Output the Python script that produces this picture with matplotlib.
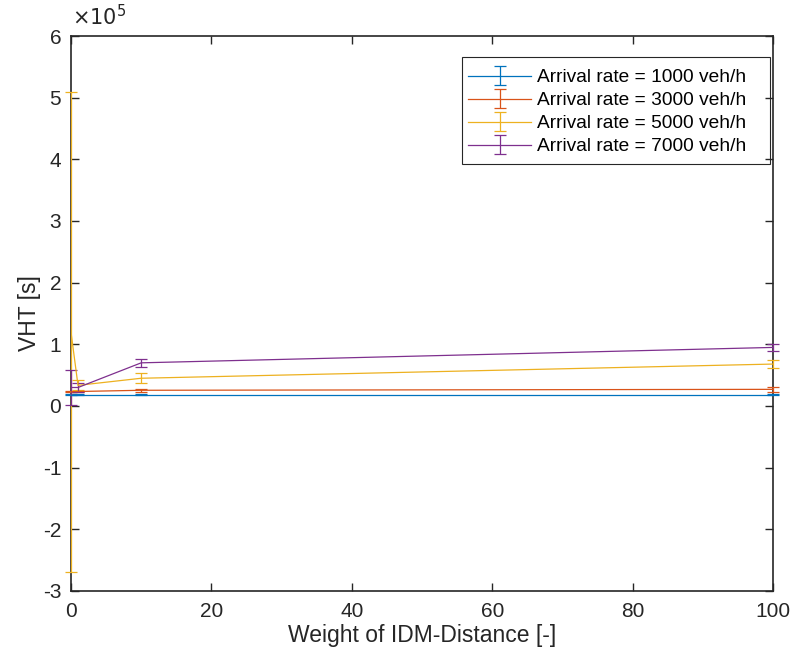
import numpy as np
import matplotlib.pyplot as plt
from matplotlib.patches import Rectangle

plt.rcParams['font.family'] = ['Liberation Sans', 'DejaVu Sans']

# weight of the IDM-distance term
weights = [0, 1, 10, 100]
labels = ['Arrival rate = 1000 veh/h', 'Arrival rate = 3000 veh/h',
          'Arrival rate = 5000 veh/h', 'Arrival rate = 7000 veh/h']

# mean VHT and spread per arrival rate [s]
vht_1000 = [0.185e5, 0.185e5, 0.185e5, 0.185e5]
err_1000 = [0.01e5, 0.01e5, 0.01e5, 0.01e5]
vht_3000 = [0.23e5, 0.235e5, 0.255e5, 0.27e5]
err_3000 = [0.01e5, 0.01e5, 0.02e5, 0.04e5]
vht_5000 = [1.2e5, 0.335e5, 0.45e5, 0.68e5]
err_5000 = [3.9e5, 0.08e5, 0.08e5, 0.07e5]
vht_7000 = [0.30e5, 0.30e5, 0.70e5, 0.95e5]
err_7000 = [0.29e5, 0.08e5, 0.06e5, 0.06e5]

colors = ['#0072BD', '#D95319', '#EDB120', '#7E2F8E']
ink = '#262626'

fig = plt.figure(figsize=(7.94, 6.63), dpi=100)
ax = fig.add_axes([0.0894, 0.1086, 0.8842, 0.8371])

for y, e, c, lab in zip([vht_1000, vht_3000, vht_5000, vht_7000],
                        [err_1000, err_3000, err_5000, err_7000], colors, labels):
    cont = ax.errorbar(weights, y, yerr=e, color=c, lw=0.9, elinewidth=0.9,
                       capsize=4.5, capthick=0.9, label=lab, zorder=3)
    for art in list(cont.lines[1]) + list(cont.lines[2]):
        art.set_clip_on(False)

ax.set_xlim(0, 100)
ax.set_ylim(-3e5, 6e5)
ax.set_yticks(np.arange(-3, 7) * 1e5)
ax.set_yticklabels([str(v) for v in range(-3, 7)])
ax.set_xticks(np.arange(0, 101, 20))
ax.text(0.002, 1.012, r'$\times10^{5}$', transform=ax.transAxes, fontsize=15,
        color=ink, ha='left', va='bottom', fontfamily='DejaVu Sans')
ax.tick_params(direction='in', length=6, width=1, labelsize=15,
               colors=ink, top=True, right=True)
ax.tick_params(axis='x', pad=8)
ax.tick_params(axis='y', pad=7)
for s in ax.spines.values():
    s.set_color(ink)
    s.set_linewidth(1.2)

ax.set_xlabel('Weight of IDM-Distance [-]', fontsize=16.5, color=ink, labelpad=2)
ax.set_ylabel('VHT [s]', fontsize=16.5, color=ink, labelpad=1.5)

# legend entries without their own frame, boxed separately
leg = ax.legend(loc='upper left', bbox_to_anchor=(0.5655, 0.9406),
                borderaxespad=0, borderpad=0, fontsize=13.8, frameon=False,
                handlelength=3.3, labelspacing=0.29, handletextpad=0.3)
ax.add_patch(Rectangle((0.557, 0.769), 0.4387, 0.193, transform=ax.transAxes,
                       fill=False, edgecolor=ink, lw=0.8, zorder=5))

fig.savefig('out.png', dpi=100)
